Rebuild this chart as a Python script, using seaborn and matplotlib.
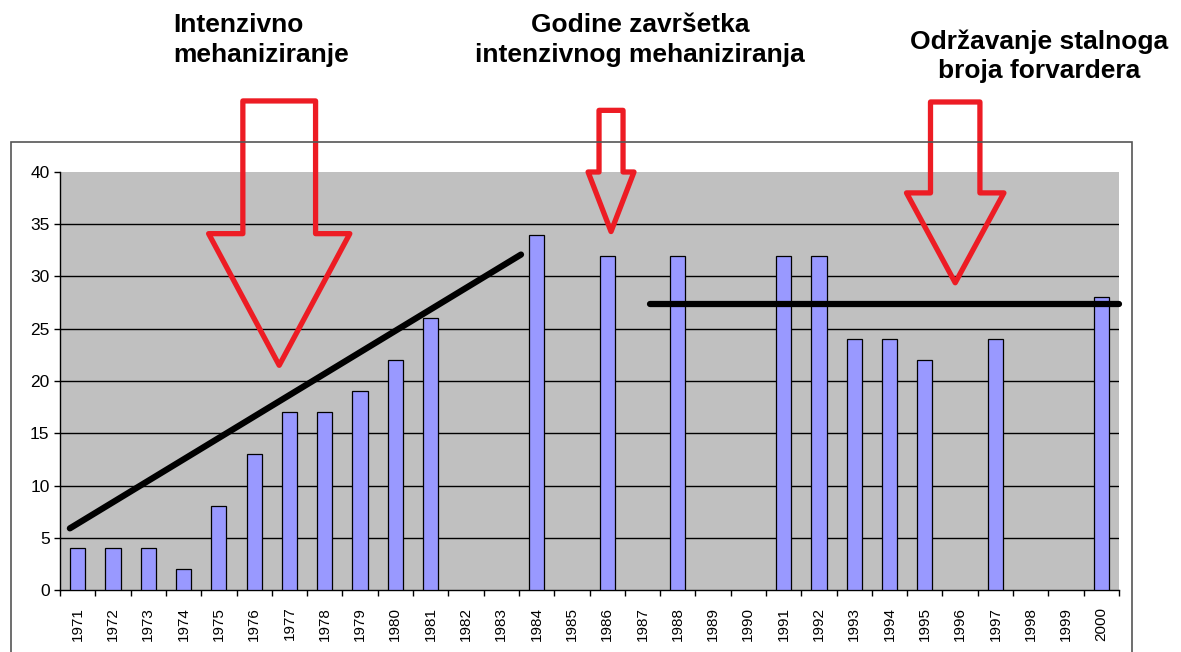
import numpy as np
import pandas as pd
import matplotlib
matplotlib.use('Agg')
import matplotlib.pyplot as plt
import seaborn as sns
from matplotlib.patches import Polygon, Rectangle

years = [str(y) for y in range(1971, 2001)]
forwarders = [4, 4, 4, 2, 8, 13, 17, 17, 19, 22, 26, None, None, 34, None, 32, None, 32,
              None, None, 32, 32, 24, 24, 22, None, 24, None, None, 28]

# trend lines drawn by hand on the original (data coords: category index, value)
trend_x = [-0.22, 12.56]
trend_y = [5.9, 32.1]
level_x = [16.2, 29.5]
level_y = [27.4, 27.4]

labels = ["Intenzivno\nmehaniziranje",
          "Godine završetka\nintenzivnog mehaniziranja",
          "Održavanje stalnoga\nbroja forvardera"]

df = pd.DataFrame({'year': years, 'value': forwarders}).astype({'value': float})

sns.set_style('ticks')
plt.rcParams['font.family'] = ['Liberation Sans', 'DejaVu Sans']
plt.rcParams['text.color'] = 'black'
plt.rcParams['xtick.labelcolor'] = 'black'
plt.rcParams['ytick.labelcolor'] = 'black'

W, H = 1181, 652
fig = plt.figure(figsize=(W / 100, H / 100), dpi=100)
ax = fig.add_axes([60 / W, (H - 590) / H, (1119 - 60) / W, (590 - 172) / H])

# outer chart frame
fig.patches.append(Rectangle((11 / W, -0.01), (1132 - 11) / W, (H - 142) / H + 0.01,
                             transform=fig.transFigure, fill=False,
                             edgecolor='#555555', lw=1.2))

ax.set_facecolor('#C0C0C0')
sns.barplot(data=df, x='year', y='value', order=years, color='#9999FF',
            saturation=1, edgecolor='black', linewidth=0.9, width=0.43,
            errorbar=None, ax=ax, zorder=3)

ax.set_ylim(0, 40)
ax.set_xlim(-0.5, 29.5)
ax.set_yticks(range(0, 41, 5))
for v in range(5, 40, 5):
    ax.axhline(v, color='black', lw=1.0, zorder=1)

ax.set_xticks(range(len(years)))
ax.set_xticklabels(years, rotation=90, fontsize=11)
ax.set_xticks(np.arange(-0.5, len(years), 1), minor=True)
ax.tick_params(axis='x', which='major', length=0, pad=12)
ax.tick_params(axis='x', which='minor', length=4.5, width=1, color='black')
ax.tick_params(axis='y', length=4.5, width=1, color='black', labelsize=12.5, pad=3)
ax.set_xlabel('')
ax.set_ylabel('')
for s in ['top', 'right']:
    ax.spines[s].set_visible(False)
for s in ['left', 'bottom']:
    ax.spines[s].set_color('black')
    ax.spines[s].set_linewidth(1)

ax.plot(trend_x, trend_y, color='black', lw=4.5, solid_capstyle='round', zorder=5)
ax.plot(level_x, level_y, color='black', lw=4.5, solid_capstyle='round', zorder=5,
        clip_on=False)


def block_arrow(cx, shaft_hw, head_hw, top, base, tip):
    return [(cx - shaft_hw, top), (cx + shaft_hw, top), (cx + shaft_hw, base),
            (cx + head_hw, base), (cx, tip), (cx - head_hw, base),
            (cx - shaft_hw, base)]


arrows = [(5.71, 1.03, 2.0, 46.8, 34.1, 21.5),
          (15.11, 0.34, 0.65, 45.9, 40.0, 34.3),
          (24.86, 0.70, 1.38, 46.7, 38.0, 29.4)]
for a in arrows:
    ax.add_patch(Polygon(block_arrow(*a), closed=True, fill=False,
                         edgecolor='#ED1C24', lw=3.8, joinstyle='round',
                         clip_on=False, zorder=6))

fig.text(173 / W, 1 - 13 / H, labels[0], ha='left', va='top', fontsize=19,
         fontweight='bold', linespacing=1.3)
fig.text(640 / W, 1 - 13 / H, labels[1], ha='center', va='top', fontsize=19,
         fontweight='bold', linespacing=1.3)
fig.text(1039 / W, 1 - 29 / H, labels[2], ha='center', va='top', fontsize=19,
         fontweight='bold', linespacing=1.3)

fig.savefig('out.png', dpi=100)
